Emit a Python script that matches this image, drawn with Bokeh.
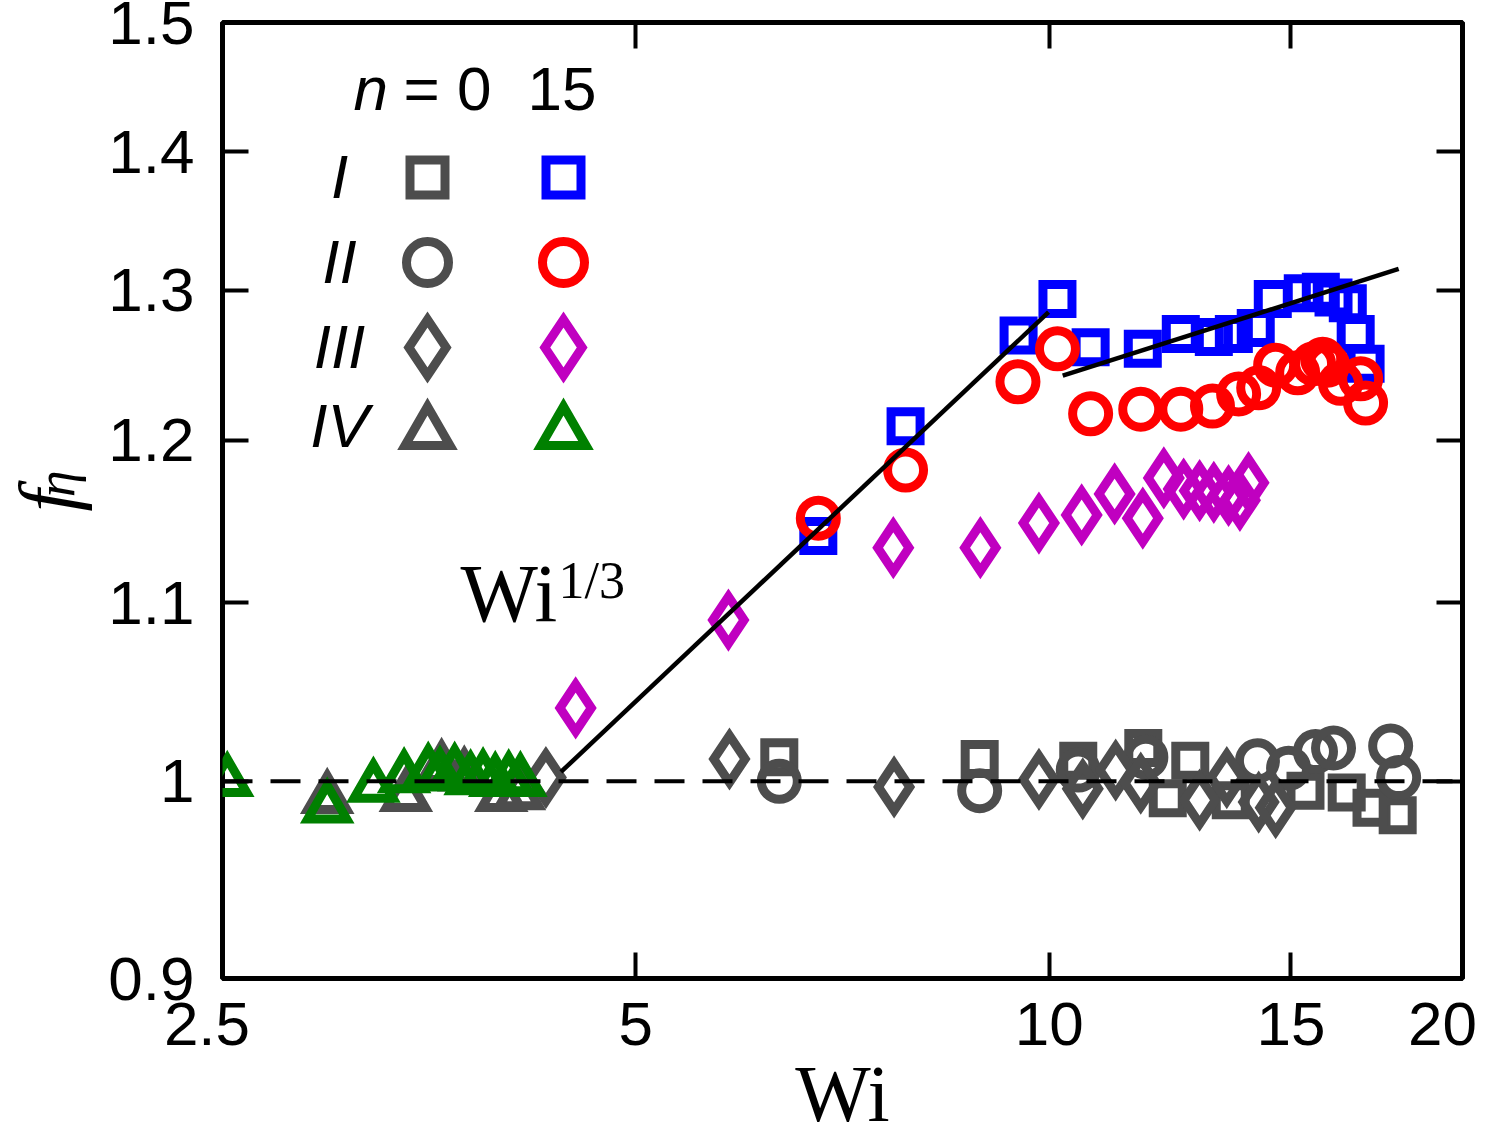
import math
from bokeh.plotting import figure
from bokeh.models import Range1d, FixedTicker, LogAxis, CustomJSTickFormatter, Span, Label
from bokeh.embed import file_html
from bokeh.resources import INLINE

# ---------------- data ----------------
x_ticks = [2.5, 5, 10, 15, 20]
x_tick_labels = ["2.5", "5", "10", "15", "20"]
y_ticks = [0.9, 1.0, 1.1, 1.2, 1.3, 1.4, 1.5]
y_tick_labels = ["0.9", "1", "1.1", "1.2", "1.3", "1.4", "1.5"]

# n = 0 (grey)
I_n0_wi = [6.36, 8.90, 10.50, 11.71, 12.20, 12.67, 13.56, 15.37, 16.47, 17.17, 17.94]
I_n0_f = [1.013, 1.012, 1.011, 1.018, 0.991, 1.011, 0.990, 0.995, 0.994, 0.986, 0.982]
II_n0_wi = [6.36, 8.90, 10.50, 11.76, 14.18, 14.94, 15.63, 16.11, 17.73, 17.97]
II_n0_f = [1.000, 0.995, 1.006, 1.013, 1.011, 1.007, 1.016, 1.018, 1.019, 1.002]
III_n0_wi = [4.30, 5.85, 7.71, 9.83, 10.58, 11.18, 11.66, 12.87, 13.47, 14.21, 14.62]
III_n0_f = [1.002, 1.012, 0.997, 1.001, 0.996, 1.006, 0.999, 0.990, 1.002, 0.989, 0.986]
IV_n0_wi = [2.98, 3.40, 3.61, 3.75, 3.99, 4.11]
IV_n0_f = [0.991, 0.992, 1.007, 1.003, 0.992, 0.993]

# n = 15 (coloured)
I_n15_wi = [6.79, 7.86, 9.50, 10.14, 10.72, 11.70, 12.47, 13.18, 13.63, 14.14, 14.55,
            15.30, 15.77, 16.11, 16.50, 16.72, 17.00]
I_n15_f = [1.140, 1.209, 1.269, 1.294, 1.261, 1.260, 1.270, 1.268, 1.270, 1.274, 1.294,
           1.298, 1.299, 1.295, 1.291, 1.270, 1.250]
II_n15_wi = [6.79, 7.86, 9.49, 10.14, 10.72, 11.66, 12.47, 13.15, 13.74, 14.21, 14.62,
             15.17, 15.58, 15.82, 15.95, 16.30, 16.86, 17.00]
II_n15_f = [1.151, 1.181, 1.238, 1.260, 1.217, 1.220, 1.220, 1.222, 1.230, 1.234, 1.249,
            1.244, 1.250, 1.253, 1.249, 1.237, 1.240, 1.224]
III_n15_wi = [4.52, 5.84, 7.70, 8.91, 9.83, 10.56, 11.16, 11.70, 12.12, 12.53, 12.87,
              13.18, 13.51, 13.77, 13.97]
III_n15_f = [1.040, 1.090, 1.133, 1.133, 1.148, 1.153, 1.166, 1.151, 1.176, 1.169, 1.168,
             1.167, 1.165, 1.162, 1.173]
IV_n15_wi = [2.52, 2.98, 3.22, 3.39, 3.53, 3.60, 3.69, 3.79, 3.87, 3.95, 4.04, 4.12]
IV_n15_f = [1.000, 0.986, 0.997, 1.002, 1.005, 1.003, 1.005, 1.001, 1.002, 1.000, 1.001, 1.000]

# guide lines
fit1_wi = [4.41, 9.99]
fit1_f = [1.005, 1.285]
fit2_wi = [10.23, 17.97]
fit2_f = [1.242, 1.315]
ref_f = 1.0

# ---------------- layout ----------------
X0, X1 = 2.5, 20.0
Y0, Y1 = 0.9, 1.5
W, H = 1492, 1142
FL, FT, FW, FH = 222, 22, 1240, 956          # frame position inside the figure


def wx(px):
    """picture pixel -> Wi (log axis)"""
    return X0 * (X1 / X0) ** ((px - FL) / FW)


def fy(py):
    """picture pixel -> f (log axis)"""
    return Y0 * (Y1 / Y0) ** ((FT + FH - py) / FH)


GREY = "#4d4d4d"
BLUE = "#0000ff"
RED = "#ff0000"
MAG = "#c000c0"
GREEN = "#008000"
SANS = "Liberation Sans"
SERIF = "Liberation Serif"
TICK_FS = "62px"

p = figure(width=W, height=H, x_axis_type="log", y_axis_type="log",
           x_range=Range1d(X0, X1), y_range=Range1d(Y0, Y1),
           output_backend="svg", toolbar_location=None,
           min_border_left=FL, min_border_top=FT,
           min_border_right=W - FL - FW, min_border_bottom=H - FT - FH)
p.grid.visible = False
p.outline_line_color = "black"
p.outline_line_width = 5
p.background_fill_color = "white"
p.border_fill_color = "white"

fmt_code = """
for (let i = 0; i < vals.length; i++) {
  if (Math.abs(vals[i] - tick) < 1e-6 * vals[i]) {
    let s = labels[i];
    if (pad && i == 0) s = s + "\\u2002";
    if (pad && i == vals.length - 1) s = s + "\\u2005";
    return s;
  }
}
return "";
"""


def style_axis(ax, ticks, labels, show, pad=False):
    ax.ticker = FixedTicker(ticks=ticks, minor_ticks=[])
    ax.axis_line_color = None
    ax.major_tick_in = 26
    ax.major_tick_out = 0
    ax.major_tick_line_width = 4
    ax.major_tick_line_color = "black"
    ax.minor_tick_line_color = None
    if show:
        ax.formatter = CustomJSTickFormatter(args=dict(vals=ticks, labels=labels, pad=pad), code=fmt_code)
        ax.major_label_text_font = SANS
        ax.major_label_text_font_size = TICK_FS
        ax.major_label_text_color = "black"
    else:
        ax.formatter = CustomJSTickFormatter(code="return '';")
        ax.major_label_text_font_size = "0px"
        ax.major_label_standoff = 0


xa = p.xaxis[0]
style_axis(xa, x_ticks, x_tick_labels, True, pad=True)
xa.major_label_standoff = 10
xa.axis_label = "Wi"
xa.axis_label_text_font = SERIF
xa.axis_label_text_font_style = "normal"
xa.axis_label_text_font_size = "80px"
xa.axis_label_text_color = "black"
xa.axis_label_standoff = -11

ya = p.yaxis[0]
style_axis(ya, y_ticks, y_tick_labels, True)
ya.major_label_standoff = 28

# y-axis title f_eta: outer helper axis -> tick label "η" (subscript) + axis label "f"
eta_axis = LogAxis()
eta_axis.ticker = FixedTicker(ticks=[fy(470)], minor_ticks=[])
eta_axis.formatter = CustomJSTickFormatter(code="return 'η';")
eta_axis.axis_line_color = None
eta_axis.major_tick_line_color = None
eta_axis.minor_tick_line_color = None
eta_axis.major_tick_in = 0
eta_axis.major_tick_out = 0
eta_axis.major_label_orientation = math.pi / 2
eta_axis.major_label_standoff = 50
eta_axis.major_label_text_font = SERIF
eta_axis.major_label_text_font_style = "italic"
eta_axis.major_label_text_font_size = "54px"
eta_axis.major_label_text_color = "black"
eta_axis.axis_label = "f"
eta_axis.axis_label_text_font = SERIF
eta_axis.axis_label_text_font_style = "italic"
eta_axis.axis_label_text_font_size = "80px"
eta_axis.axis_label_text_color = "black"
eta_axis.axis_label_standoff = -99
p.add_layout(eta_axis, "left")

top_ax = LogAxis()
right_ax = LogAxis()
style_axis(top_ax, x_ticks, x_tick_labels, False)
style_axis(right_ax, y_ticks, y_tick_labels, False)
p.add_layout(top_ax, "above")
p.add_layout(right_ax, "right")

# ---------------- data markers ----------------
LW = 9


def pts(xs, ys, marker, size, color):
    p.scatter(xs, ys, marker=marker, size=size, fill_color=None, line_color=color,
              line_width=LW, line_join="miter")


pts(I_n0_wi, I_n0_f, "square", 29, GREY)
pts(II_n0_wi, II_n0_f, "circle", 36, GREY)
pts(III_n0_wi, III_n0_f, "diamond", 47, GREY)
pts(IV_n0_wi, IV_n0_f, "triangle", 39, GREY)
pts(I_n15_wi, I_n15_f, "square", 29, BLUE)
pts(II_n15_wi, II_n15_f, "circle", 36, RED)
pts(III_n15_wi, III_n15_f, "diamond", 47, MAG)
pts(IV_n15_wi, IV_n15_f, "triangle", 39, GREEN)

# guide lines
p.add_layout(Span(location=ref_f, dimension="width", line_color="black",
                  line_width=4, line_dash="30 18"))
p.line(fit1_wi, fit1_f, line_color="black", line_width=4.5)
p.line(fit2_wi, fit2_f, line_color="black", line_width=4.5)


# ---------------- text helper ----------------
def lab(text, px, pyb, fs, font=SANS, style="normal", align="left"):
    # pyb: wanted baseline in picture pixels; label anchor sits ~0.35 em above it
    p.add_layout(Label(x=wx(px), y=fy(pyb - 0.35 * fs), text=text, text_align=align,
                       text_baseline="alphabetic", text_font=font, text_font_style=style,
                       text_font_size=f"{fs}px", text_color="black"))


# ---------------- key (legend) ----------------
key_rows = [("I", "square", 35, BLUE, 177, 198), ("II", "circle", 42, RED, 262, 283),
            ("III", "diamond", 56, MAG, 347, 368), ("IV", "triangle", 45, GREEN, 432, 447)]
for name, marker, size, col, yc, base in key_rows:
    p.scatter([wx(427)], [fy(yc)], marker=marker, size=size, fill_color=None,
              line_color=GREY, line_width=LW, line_join="miter")
    p.scatter([wx(563)], [fy(yc)], marker=marker, size=size, fill_color=None,
              line_color=col, line_width=LW, line_join="miter")
    lab(name, 339, base, 62, style="italic", align="center")

lab("n", 353, 110, 62, style="italic")
lab("= 0", 403, 110, 62)
lab("15", 527, 110, 62)

# power-law annotation
lab("Wi", 460, 622, 82, font=SERIF)
lab("1/3", 558, 598, 52, font=SERIF)

open("out.html", "w").write(file_html(p, INLINE))
